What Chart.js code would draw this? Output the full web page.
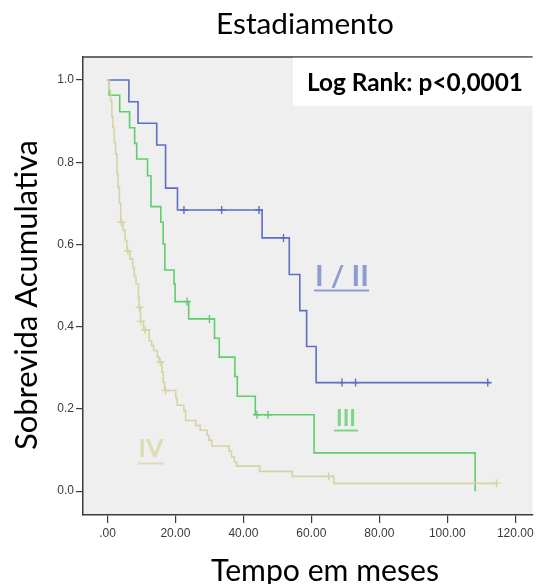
<!DOCTYPE html>
<html><head><meta charset="utf-8">
<script src="https://cdn.jsdelivr.net/npm/chart.js@4"></script>
<style>html,body{margin:0;padding:0;background:#fff;}canvas{display:block;}</style>
</head><body>
<canvas id="c" width="538" height="584"></canvas>
<script>
// ---- data ----
const xTicks = [0, 20, 40, 60, 80, 100, 120];
const yTicks = [0, 0.2, 0.4, 0.6, 0.8, 1.0];

// Stage I / II
const blueT = [0, 6.3, 9.0, 14.5, 17.1, 20.6, 45.5, 53.5, 56.6, 58.6, 61.4, 112.8];
const blueS = [1.0, 0.947, 0.895, 0.842, 0.737, 0.684, 0.616, 0.527, 0.439, 0.352, 0.264, 0.264];
const blueCensT = [22.5, 33.6, 44.6, 51.8, 69.0, 73.0, 111.9];
const blueCensS = [0.684, 0.684, 0.684, 0.616, 0.264, 0.264, 0.264];

// Stage III
const greenT = [0, 0.5, 3.6, 6.5, 8.0, 8.6, 11.8, 12.8, 15.7, 16.4, 16.9, 19.6, 19.9, 23.9, 31.5, 32.9, 37.5, 38.2, 43.5, 60.8, 108.2];
const greenS = [1.0, 0.963, 0.923, 0.884, 0.846, 0.808, 0.767, 0.692, 0.654, 0.601, 0.538, 0.504, 0.461, 0.419, 0.372, 0.326, 0.279, 0.231, 0.186, 0.093, 0.0];
const greenCensT = [23.4, 30.0, 44.0, 47.2];
const greenCensS = [0.461, 0.419, 0.186, 0.186];

// Stage IV
const yellowT = [0, 0.5, 0.9, 1.3, 1.6, 2.0, 2.4, 2.8, 3.1, 3.5, 3.9, 4.6, 5.2, 5.7, 6.6, 7.4, 7.9, 8.4, 9.1, 9.3, 9.7, 10.6, 12.3, 13.0, 13.6, 14.7, 15.2, 16.0, 16.4, 16.8, 20.1, 20.5, 22.5, 23.0, 26.0, 27.3, 29.3, 29.8, 30.7, 35.8, 36.5, 37.3, 38.0, 44.8, 54.4, 66.6, 114.5];
const yellowS = [1.0, 0.975, 0.949, 0.911, 0.884, 0.848, 0.820, 0.772, 0.739, 0.700, 0.654, 0.635, 0.610, 0.584, 0.565, 0.544, 0.522, 0.504, 0.472, 0.447, 0.413, 0.392, 0.366, 0.354, 0.342, 0.326, 0.314, 0.290, 0.265, 0.245, 0.227, 0.209, 0.196, 0.172, 0.160, 0.148, 0.136, 0.124, 0.110, 0.097, 0.083, 0.071, 0.061, 0.048, 0.036, 0.019, 0.019];
const yellowCensT = [4.1, 6.0, 9.4, 9.8, 11.1, 15.5, 17.1, 65.1, 114.5];
const yellowCensS = [0.654, 0.584, 0.447, 0.413, 0.392, 0.314, 0.245, 0.036, 0.019];

const groupLabels = ['I / II', 'III', 'IV'];
const titleText = 'Estadiamento';
const xTitle = 'Tempo em meses';
const yTitle = 'Sobrevida Acumulativa';
const statText = 'Log Rank: p<0,0001';

// ---- styles ----
const BLUE = '#5b6fc3', GREEN = '#5fcd6c', YELLOW = '#d8d3a2';
const AXIS = '#3d3d3d';
const SANS = 'Lato, "Open Sans", sans-serif';

const pts = (t, s) => t.map((v, i) => ({x: v, y: s[i]}));
const curve = (t, s, c) => ({data: pts(t, s), showLine: true, stepped: true, borderColor: c, borderWidth: 1.6, pointRadius: 0, fill: false});
const cens = (t, s, c) => ({data: pts(t, s), showLine: false, pointStyle: 'cross', pointRadius: 4, pointBorderColor: c, pointBorderWidth: 1.4, borderColor: c});

function fitText(ctx, text, x, y, w, weight, color, align) {
  ctx.font = `${weight} 100px ${SANS}`;
  const m = ctx.measureText(text).width;
  const size = 100 * w / m;
  ctx.font = `${weight} ${size}px ${SANS}`;
  ctx.fillStyle = color; ctx.textAlign = align || 'left'; ctx.textBaseline = 'alphabetic';
  ctx.fillText(text, x, y);
}
function underline(ctx, x1, x2, y, color) {
  ctx.strokeStyle = color; ctx.lineWidth = 2;
  ctx.beginPath(); ctx.moveTo(x1, y); ctx.lineTo(x2, y); ctx.stroke();
}

const deco = {
  id: 'deco',
  beforeDraw(chart) {
    const {ctx, chartArea: a} = chart;
    ctx.save();
    ctx.fillStyle = '#efefef';
    ctx.fillRect(a.left, a.top, a.right - a.left, a.bottom - a.top);
    ctx.restore();
  },
  afterDraw(chart) {
    const {ctx, chartArea: a} = chart;
    ctx.save();
    // top frame line
    ctx.strokeStyle = AXIS; ctx.lineWidth = 1.5;
    ctx.beginPath(); ctx.moveTo(a.left, a.top); ctx.lineTo(a.right, a.top); ctx.stroke();
    // stat box
    ctx.fillStyle = '#ffffff';
    ctx.fillRect(293, a.top + 0.8, 245, 48);
    fitText(ctx, statText, 307, 91, 216, 'bold', '#000', 'left');
    // title & axis titles
    fitText(ctx, titleText, 305, 34, 178, 'normal', '#000', 'center');
    fitText(ctx, xTitle, 325, 581, 228, 'normal', '#000', 'center');
    ctx.save();
    ctx.translate(37, 295); ctx.rotate(-Math.PI / 2);
    fitText(ctx, yTitle, 0, 0, 310, 'normal', '#000', 'center');
    ctx.restore();
    // group labels
    fitText(ctx, groupLabels[0], 315, 286, 54, 'bold', '#8d9cd3', 'left');
    underline(ctx, 314, 369, 290.5, '#8d9cd3');
    fitText(ctx, groupLabels[1], 336, 425.5, 20, 'bold', '#7dd688', 'left');
    underline(ctx, 334, 358, 430.5, '#7dd688');
    fitText(ctx, groupLabels[2], 138.5, 457, 25, 'bold', '#dedbb6', 'left');
    underline(ctx, 138, 164, 463.5, '#dedbb6');
    ctx.restore();
  }
};

new Chart(document.getElementById('c'), {
  type: 'scatter',
  data: {
    datasets: [
      curve(yellowT, yellowS, YELLOW),
      curve(greenT, greenS, GREEN),
      curve(blueT, blueS, BLUE),
      cens(yellowCensT, yellowCensS, YELLOW),
      cens(greenCensT, greenCensS, GREEN),
      cens(blueCensT, blueCensS, BLUE)
    ]
  },
  options: {
    responsive: false,
    animation: false,
    events: [],
    layout: {padding: {top: 57, left: 0, right: 0, bottom: 0}},
    plugins: {legend: {display: false}, tooltip: {enabled: false}},
    scales: {
      x: {
        type: 'linear', min: -7.2, max: 125.1,
        afterBuildTicks: s => { s.ticks = xTicks.map(v => ({value: v})); },
        afterFit: s => { s.height = 69; },
        grid: {display: true, drawOnChartArea: false, drawTicks: true, tickLength: 8, color: AXIS, lineWidth: 1.2},
        border: {display: true, color: AXIS, width: 1.5},
        ticks: {callback: v => (v === 0 ? '.00' : v.toFixed(2)), color: '#3a3a3a', font: {family: '"Liberation Sans", Arial', size: 12}, padding: 3, maxRotation: 0, autoSkip: false}
      },
      y: {
        type: 'linear', min: -0.058, max: 1.056,
        afterBuildTicks: s => { s.ticks = yTicks.map(v => ({value: v})); },
        afterFit: s => { s.width = 83; },
        grid: {display: true, drawOnChartArea: false, drawTicks: true, tickLength: 7, color: AXIS, lineWidth: 1.2},
        border: {display: true, color: AXIS, width: 1.5},
        ticks: {callback: v => v.toFixed(1), color: '#3a3a3a', font: {family: '"Liberation Sans", Arial', size: 12}, padding: 2, autoSkip: false}
      }
    }
  },
  plugins: [deco]
});
</script>
</body></html>
